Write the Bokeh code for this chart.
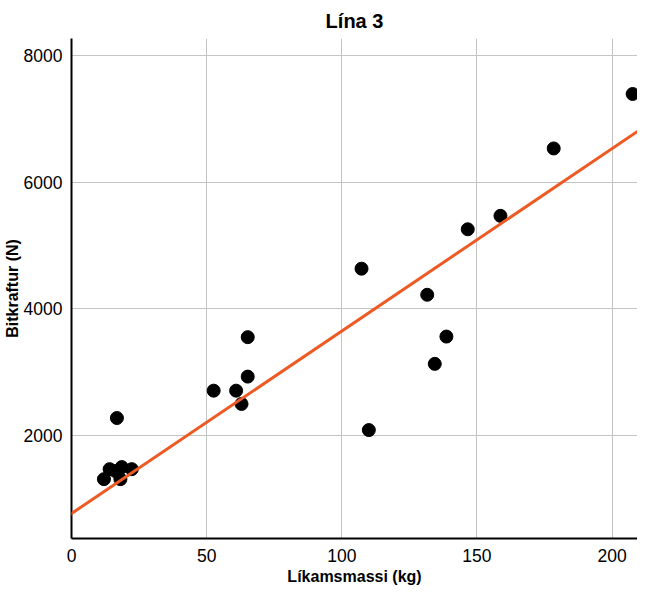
from bokeh.plotting import figure
from bokeh.models import Range1d, FixedTicker, Slope
from bokeh.embed import file_html
from bokeh.resources import INLINE

# Data
mass_kg = [12.0, 14.1, 16.3, 18.1, 18.6, 22.3, 16.8,
           52.6, 60.9, 62.9, 65.2, 65.2,
           107.3, 110.0, 131.6, 134.4, 138.7, 146.6, 158.7, 178.4, 207.6]
bite_force_n = [1311, 1469, 1438, 1311, 1501, 1469, 2276,
                2708, 2708, 2498, 2930, 3553,
                4634, 2086, 4222, 3131, 3562, 5256, 5468, 6532, 7392]
fit_intercept = 768
fit_slope = 28.81
x_ticks = [0, 50, 100, 150, 200]
y_ticks = [2000, 4000, 6000, 8000]

FONT = "Liberation Sans"

p = figure(frame_width=566, frame_height=500, output_backend="svg", toolbar_location=None,
           x_range=Range1d(0, 209.4), y_range=Range1d(374, 8268),
           title="Lína 3",
           min_border_left=0, min_border_right=0, min_border_top=0, min_border_bottom=0)

p.title.align = "center"
p.title.text_font = FONT
p.title.text_font_size = "20px"
p.title.text_font_style = "bold"
p.title.text_color = "black"
p.title.offset = 0
p.title.standoff = 14

p.outline_line_color = None
p.background_fill_color = "white"

for g in (p.xgrid, p.ygrid):
    g.grid_line_color = "#c4c4c4"
    g.grid_line_width = 1

p.xaxis.ticker = FixedTicker(ticks=x_ticks)
p.yaxis.ticker = FixedTicker(ticks=y_ticks)
p.xgrid.ticker = FixedTicker(ticks=x_ticks)
p.ygrid.ticker = FixedTicker(ticks=y_ticks)

for ax in (p.xaxis, p.yaxis):
    ax.axis_line_color = "black"
    ax.axis_line_width = 2
    ax.major_tick_in = 0
    ax.major_tick_out = 0
    ax.minor_tick_line_color = None
    ax.major_label_text_font = FONT
    ax.major_label_text_font_size = "17.5px"
    ax.major_label_text_color = "black"
    ax.axis_label_text_font = FONT
    ax.axis_label_text_font_size = "16px"
    ax.axis_label_text_font_style = "bold"
    ax.axis_label_text_color = "black"

p.xaxis.axis_label = "Líkamsmassi (kg)"
p.yaxis.axis_label = "Bitkraftur (N)"
p.xaxis.major_label_standoff = 10
p.xaxis.axis_label_standoff = 3
p.yaxis.major_label_standoff = 9
p.yaxis.axis_label_standoff = 0

p.add_layout(Slope(gradient=fit_slope, y_intercept=fit_intercept,
                   line_color="#EE5A24", line_width=3))

p.scatter(mass_kg, bite_force_n, size=13, color="black")

open("out.html", "w").write(file_html(p, INLINE))
